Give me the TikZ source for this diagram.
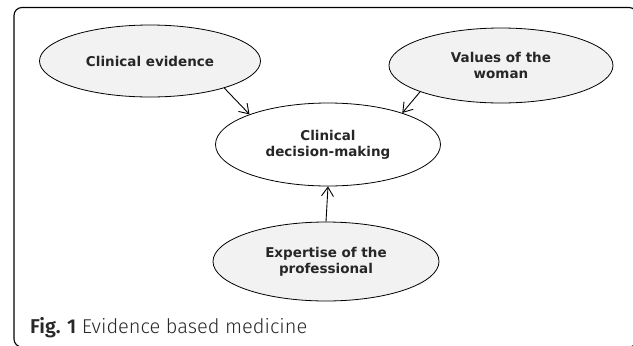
\documentclass[tikz,border=0pt]{standalone}
\usepackage{fontspec}
\usepackage{tikz}
\usetikzlibrary{shapes.geometric, arrows.meta}
\setmainfont{DejaVu Sans}
\newfontfamily\capfont{Fira Sans}[UprightFont={* Light}, BoldFont={* SemiBold}]
\definecolor{factorgray}{RGB}{242,242,242}
\definecolor{captext}{RGB}{40,40,40}

\begin{document}
\begin{tikzpicture}[x=1pt,y=-1pt,
  factor/.style={ellipse, draw, fill=factorgray, line width=0.8pt, inner sep=0pt, align=center,
    font=\fontsize{13.5}{16.3}\selectfont\bfseries, text=black!85},
  link/.style={-{Straight Barb[length=9pt,width=12pt]}, line width=0.9pt}]
  \useasboundingbox (0,0) rectangle (633,346);
  % Frame
  \draw[line width=1.1pt, rounded corners=8pt] (14,7.5) rectangle (637,347);
  % Outer factors
  \node[factor, minimum width=221pt, minimum height=72pt] (ce) at (150,61) {Clinical evidence};
  \node[factor, minimum width=224pt, minimum height=75pt] (vw) at (501,65.5) {Values of the\\woman};
  \node[factor, minimum width=226pt, minimum height=79pt] (ex) at (326,261.5) {Expertise of the\\professional};
  % Decision
  \node[factor, fill=white, minimum width=225pt, minimum height=83pt] (dm) at (328,144.5) {Clinical\\decision-making};
  % Links
  \draw[link] (ce.-20) -- (dm.159);
  \draw[link] (vw.198) -- (dm.23);
  \draw[link] (ex.north) -- (dm.south);
  % Caption
  \node[anchor=base west, inner sep=0pt, font=\capfont\fontsize{20}{24}\selectfont, text=captext] (cap) at (30,333)
    {\textbf{Fig. 1} Evidence based medicine};
\end{tikzpicture}
\end{document}
